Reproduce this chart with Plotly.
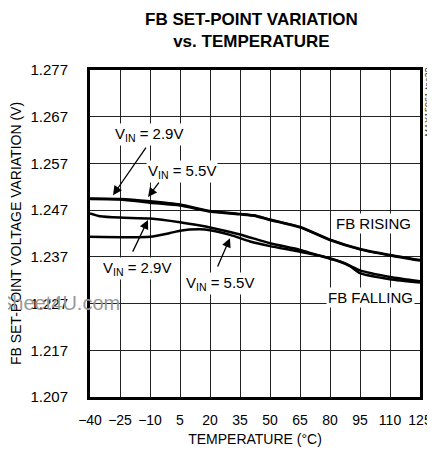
import plotly.graph_objects as go

# temperature (°C) and FB set-point (V)
temp_rise = [-40, -25, -10, 5, 20, 35, 42, 50, 65, 80, 95, 110, 125]
fb_rise_29 = [1.2495, 1.2494, 1.2489, 1.2482, 1.2468, 1.2462, 1.2459, 1.2450, 1.2434, 1.2407, 1.2387, 1.2374, 1.2363]
fb_rise_55 = [1.2494, 1.2493, 1.2486, 1.2480, 1.2467, 1.2461, 1.2458, 1.2449, 1.2433, 1.2406, 1.2386, 1.2373, 1.2362]

temp_fall_29 = [-40, -35, -25, -10, 5, 15, 20, 35, 50, 65, 80, 87, 95, 110, 125]
fb_fall_29 = [1.2463, 1.2457, 1.2454, 1.2452, 1.2444, 1.2437, 1.2433, 1.2418, 1.2399, 1.2385, 1.2366, 1.2357, 1.2341, 1.2327, 1.2318]

temp_fall_55 = [-40, -10, 0, 5, 15, 20, 30, 40, 50, 65, 80, 90, 95, 110, 125]
fb_fall_55 = [1.2413, 1.2413, 1.2421, 1.2426, 1.2429, 1.2427, 1.2417, 1.2403, 1.2393, 1.2381, 1.2367, 1.2350, 1.2335, 1.2322, 1.2315]

x_ticks = [-40, -25, -10, 5, 20, 35, 50, 65, 80, 95, 110, 125]
y_ticks = [1.207, 1.217, 1.227, 1.237, 1.247, 1.257, 1.267, 1.277]

FONT = "Liberation Sans, Arial, sans-serif"

fig = go.Figure()
for xs, ys in [(temp_rise, fb_rise_29), (temp_rise, fb_rise_55),
               (temp_fall_29, fb_fall_29), (temp_fall_55, fb_fall_55)]:
    fig.add_trace(go.Scatter(x=xs, y=ys, mode='lines', line=dict(color='black', width=2.5, shape='spline', smoothing=0.6),
                             showlegend=False, hoverinfo='skip'))

lbl = dict(font=dict(family=FONT, size=15, color='black'), showarrow=False, bgcolor='white', borderpad=1)
arrow = dict(text='', showarrow=True, arrowhead=2, arrowsize=1.4, arrowwidth=1.3, arrowcolor='black',
             axref='x', ayref='y', xref='x', yref='y')


# page pixel -> paper coords (plot area spans page x 90..420, y 70..397)
def px_x(p):
    return (p - 90) / 330.0


def px_y(p):
    return (397 - p) / 327.0


annotations = [
    dict(x=-10.5, y=1.2631, text='V<sub>IN</sub> = 2.9V', xref='x', yref='y', **lbl),
    dict(x=6, y=1.2552, text='V<sub>IN</sub> = 5.5V', xref='x', yref='y', **lbl),
    dict(x=-16.5, y=1.2346, text='V<sub>IN</sub> = 2.9V', xref='x', yref='y', **lbl),
    dict(x=25, y=1.2314, text='V<sub>IN</sub> = 5.5V', xref='x', yref='y', **lbl),
    dict(x=101.5, y=1.2442, text='FB RISING', xref='x', yref='y', **lbl),
    dict(x=100, y=1.2282, text='FB FALLING', xref='x', yref='y', **lbl),
    dict(x=-28.5, y=1.2502, ax=-11.5, ay=1.2607, **arrow),
    dict(x=-11, y=1.2498, ax=-5, ay=1.2532, **arrow),
    dict(x=-11, y=1.2449, ax=-19, ay=1.2378, **arrow),
    dict(x=30, y=1.2410, ax=23.5, ay=1.2346, **arrow),
    # title
    dict(x=px_x(251), y=px_y(8), xref='paper', yref='paper',
         text='<b>FB SET-POINT VARIATION<br>vs. TEMPERATURE</b>', yanchor='top',
         showarrow=False, font=dict(family=FONT, size=17, color='black')),
    # side code
    dict(x=px_x(428), y=px_y(66), xref='paper', yref='paper', text='MAX15061 toc32', textangle=-90,
         xanchor='center', yanchor='top', showarrow=False, font=dict(family=FONT, size=9, color='#333')),
    # watermark
    dict(x=px_x(122), y=px_y(316), xref='paper', yref='paper', text='Sheet4U.com', xanchor='right',
         showarrow=False, font=dict(family=FONT, size=20, color='#999999')),
]

# the page body adds an 8px margin; keep the height small enough to avoid a scrollbar
fig.update_layout(
    width=427, height=442,
    margin=dict(l=82, r=15, t=62, b=53),
    plot_bgcolor='white', paper_bgcolor='white',
    annotations=annotations,
    font=dict(family=FONT, size=15, color='black'),
    xaxis=dict(range=[-40, 125], tickvals=x_ticks, tickangle=0, showgrid=True, gridcolor='#222', gridwidth=1,
               showline=True, mirror=True, linecolor='black', linewidth=3, zeroline=False, ticks='',
               ticklabelstandoff=8, tickfont=dict(size=14), automargin=False, ticklabeloverflow='allow',
               title=dict(text='TEMPERATURE (°C)', font=dict(size=14), standoff=8)),
    yaxis=dict(range=[1.207, 1.277], tickvals=y_ticks, tickformat='.3f', showgrid=True, gridcolor='#222', gridwidth=1,
               showline=True, mirror=True, linecolor='black', linewidth=3, zeroline=False, ticks='',
               ticklabelstandoff=16, tickfont=dict(size=15), automargin=False,
               title=dict(text='FB SET-POINT VOLTAGE VARIATION (V)', font=dict(size=14), standoff=6)),
)

fig.write_html("out.html")
